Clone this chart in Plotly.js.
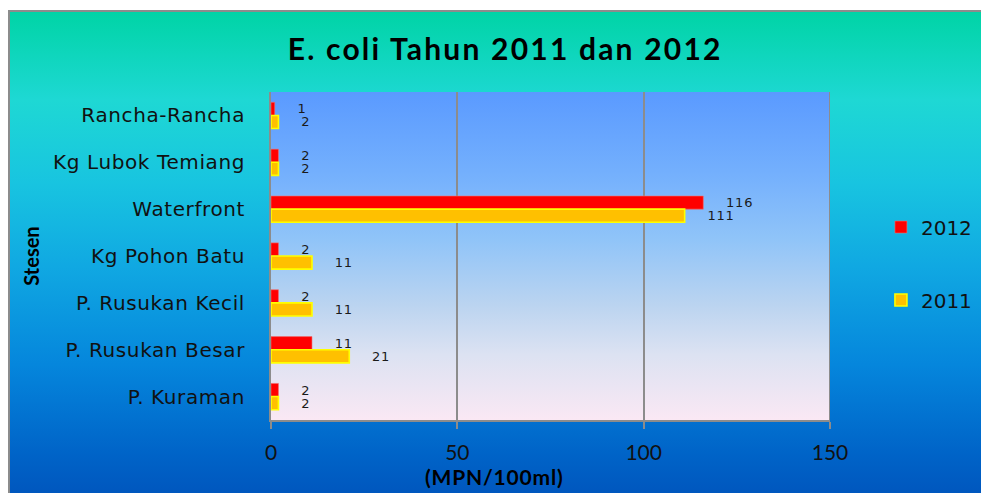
<!DOCTYPE html>
<html>
<head>
<meta charset="utf-8">
<script src="https://cdn.plot.ly/plotly-3.0.1.min.js"></script>
<style>
  html, body { margin: 0; padding: 0; background: #ffffff; overflow: hidden; }
  #wrap { position: relative; width: 981px; height: 493px; overflow: hidden; background: #fff; }
  #frame { position: absolute; left: 8px; top: 10px; width: 980px; height: 490px; border: 2px solid #8c8c8c;
    background: linear-gradient(to bottom, #00D4A6 0%, #1ED8D4 18%, #18C4E0 35%, #10A8E2 52%, #0586DC 72%, #0064C8 90%, #0054BC 100%); }
  #plotbg { position: absolute; left: 271px; top: 92px; width: 559px; height: 328px;
    background: linear-gradient(to bottom, #5A9AFF 0%, #74B0FD 25%, #90C4F8 45%, #BBD4F0 65%, #DCE2F2 80%, #FAE8F4 100%); }
  #chart { position: absolute; left: 0; top: 0; width: 981px; height: 493px; }
  .ytick text { letter-spacing: 0.6px; }
  .bartext { letter-spacing: 0.8px; }
  .gtitle { letter-spacing: 2.2px; }
  .annotation-text { letter-spacing: 0.8px; }
</style>
</head>
<body>
<div id="wrap">
  <div id="frame"></div>
  <div id="plotbg"></div>
  <div id="chart"></div>
</div>
<script>
const stations = ["Rancha-Rancha", "Kg Lubok Temiang", "Waterfront", "Kg Pohon Batu", "P. Rusukan Kecil", "P. Rusukan Besar", "P. Kuraman"];
const values2012 = [1, 2, 116, 2, 2, 11, 2];
const values2011 = [2, 2, 111, 11, 11, 21, 2];
const xTicks = [0, 50, 100, 150];

const pad = "\u00A0\u00A0\u00A0\u00A0";
const textFont = { family: "DejaVu Sans", size: 13, color: "#1a1a1a" };

const traces = [
  {
    type: "bar", orientation: "h", name: "2012", legendgroup: "a",
    y: stations, x: values2012,
    marker: { color: "#FF0000", line: { color: "#F07070", width: 0.6 } },
    text: values2012.map(String), texttemplate: pad + "%{x}",
    textposition: "outside", textfont: textFont, constraintext: "none", cliponaxis: false,
    hoverinfo: "x+y"
  },
  {
    type: "bar", orientation: "h", name: "2011", legendgroup: "b",
    y: stations, x: values2011,
    marker: { color: "#FFC000", line: { color: "#FFFF00", width: 1.6 } },
    text: values2011.map(String), texttemplate: pad + "%{x}",
    textposition: "outside", textfont: textFont, constraintext: "none", cliponaxis: false,
    hoverinfo: "x+y"
  }
];

const layout = {
  width: 981, height: 493,
  margin: { l: 271, r: 151, t: 92, b: 73, pad: 0, autoexpand: false },
  paper_bgcolor: "rgba(0,0,0,0)",
  plot_bgcolor: "rgba(0,0,0,0)",
  barmode: "group", bargap: 0.44, bargroupgap: 0,
  title: {
    text: "<b>E. coli Tahun 2011 dan 2012</b>",
    font: { family: "Lato", size: 30, color: "#000" },
    x: 0.515, xref: "container", xanchor: "center",
    y: 0.9, yref: "container", yanchor: "middle"
  },
  xaxis: {
    range: [0, 150], tickvals: xTicks, ticktext: xTicks.map(String),
    showgrid: true, gridcolor: "#8c8c8c", gridwidth: 2,
    showline: true, linecolor: "#8c8c8c", linewidth: 2,
    ticks: "outside", ticklen: 7, tickcolor: "#8c8c8c", tickwidth: 2,
    ticklabelstandoff: 6,
    tickfont: { family: "Lato", size: 21, color: "#111" },
    zeroline: false, fixedrange: true, automargin: false
  },
  yaxis: {
    autorange: "reversed", type: "category",
    showgrid: false, showline: true, linecolor: "#8c8c8c", linewidth: 2,
    ticks: "", ticklabelstandoff: 20,
    tickfont: { family: "DejaVu Sans", size: 20, color: "#111" },
    fixedrange: true, automargin: false,
    title: { text: "<b>Stesen</b>", font: { family: "Lato", size: 20, color: "#000" }, standoff: 8 }
  },
  annotations: [
    {
      text: "<b>(MPN/100ml)</b>", xref: "paper", yref: "paper",
      x: 0.399, y: -0.171, xanchor: "center", yanchor: "middle",
      showarrow: false, font: { family: "Lato", size: 21, color: "#000" }
    }
  ],
  showlegend: true,
  legend: {
    xref: "container", yref: "container",
    x: 0.898, xanchor: "left", y: 0.579, yanchor: "top",
    bgcolor: "rgba(0,0,0,0)", borderwidth: 0,
    traceorder: "grouped", tracegroupgap: 44,
    font: { family: "DejaVu Sans", size: 20, color: "#111" }
  },
  shapes: [
    { type: "line", xref: "x", yref: "paper", x0: 150, x1: 150, y0: 0, y1: 1, line: { color: "#8c8c8c", width: 2 } }
  ]
};

Plotly.newPlot("chart", traces, layout, { displayModeBar: false, staticPlot: true });
</script>
</body>
</html>
